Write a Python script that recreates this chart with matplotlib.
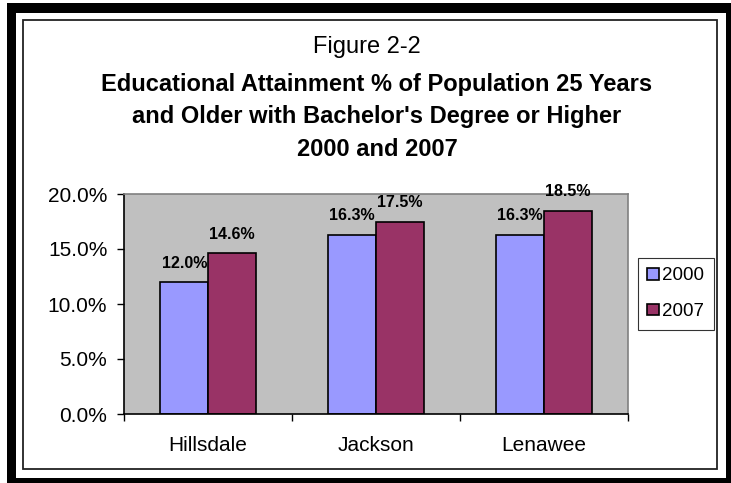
import matplotlib
matplotlib.use("Agg")
import matplotlib.pyplot as plt
from matplotlib import font_manager
from matplotlib.patches import Rectangle
import numpy as np

counties = ["Hillsdale", "Jackson", "Lenawee"]
years = ["2000", "2007"]
pct_2000 = [12.0, 16.3, 16.3]
pct_2007 = [14.6, 17.5, 18.5]
y_ticks = [0, 5, 10, 15, 20]

# prefer a condensed sans face if one is installed
names = {f.name for f in font_manager.fontManager.ttflist}
family = "Liberation Sans Narrow" if "Liberation Sans Narrow" in names else "Liberation Sans"
plt.rcParams["font.family"] = [family, "DejaVu Sans"]

W, H = 731, 483
fig = plt.figure(figsize=(W / 100, H / 100), dpi=100)
fig.patch.set_facecolor("white")


def px_rect(x0, y0, x1, y1, **kw):
    # rectangle given in image pixels (y measured from top)
    return Rectangle((x0 / W, 1 - y1 / H), (x1 - x0) / W, (y1 - y0) / H,
                     transform=fig.transFigure, **kw)


# heavy outer frame
for band in [(7, 3, 16, 483), (7, 3, 731, 13), (726, 3, 731, 483), (7, 478, 731, 483)]:
    fig.patches.append(px_rect(*band, facecolor="black", edgecolor="none"))
# thin inner frame
fig.patches.append(px_rect(23, 20, 717, 469, facecolor="none", edgecolor="#222222", linewidth=1.3))

ax = fig.add_axes([124 / W, (H - 414) / H, 504 / W, 220 / H])
ax.set_facecolor("#C0C0C0")

x = np.arange(len(counties))
bw = 0.283
b1 = ax.bar(x - bw / 2, pct_2000, bw, color="#9999FF", edgecolor="black", linewidth=1.2, label=years[0])
b2 = ax.bar(x + bw / 2, pct_2007, bw, color="#993366", edgecolor="black", linewidth=1.2, label=years[1])

for bars, vals in [(b1, pct_2000), (b2, pct_2007)]:
    for rect, v in zip(bars, vals):
        ax.annotate(f"{v:.1f}%", (rect.get_x() + rect.get_width() / 2, v),
                    xytext=(0, 19), textcoords="offset pixels",
                    ha="center", va="center", fontsize=11.5, fontweight="bold",
                    annotation_clip=False)

ax.set_xlim(-0.5, len(counties) - 0.5)
ax.set_ylim(0, 20)
ax.set_yticks(y_ticks)
ax.set_yticklabels([f"{t:.1f}%" for t in y_ticks], fontsize=15)
ax.tick_params(axis="y", direction="out", length=5, width=1, pad=7)

# category names centred, ticks on the boundaries between groups
ax.set_xticks(np.arange(len(counties) + 1) - 0.5)
ax.set_xticklabels([])
ax.set_xticks(x, minor=True)
ax.set_xticklabels(counties, minor=True, fontsize=15)
ax.tick_params(axis="x", which="major", direction="out", length=5, width=1)
ax.tick_params(axis="x", which="minor", length=0, pad=16)

ax.spines["left"].set_color("black")
ax.spines["bottom"].set_color("black")
ax.spines["top"].set_color("#808080")
ax.spines["right"].set_color("#808080")
for s in ax.spines.values():
    s.set_linewidth(1.2)

leg = ax.legend(loc="upper left", bbox_to_anchor=(638 / W, 1 - 258 / H), bbox_transform=fig.transFigure,
                fontsize=13.5, frameon=True, fancybox=False, borderpad=0.5, handlelength=0.6,
                handleheight=0.6, handletextpad=0.2, labelspacing=1.0, borderaxespad=0)
leg.get_frame().set_edgecolor("black")
leg.get_frame().set_linewidth(0.8)

fig.text(367 / W, 1 - 47 / H, "Figure 2-2", ha="center", va="center", fontsize=17)
title_lines = ["Educational Attainment % of Population 25 Years",
               "and Older with Bachelor's Degree or Higher",
               "2000 and 2007"]
for line, yy in zip(title_lines, [85, 117, 150]):
    fig.text(377 / W, 1 - yy / H, line, ha="center", va="center", fontsize=17, fontweight="bold")

fig.savefig("out.png", dpi=100)
